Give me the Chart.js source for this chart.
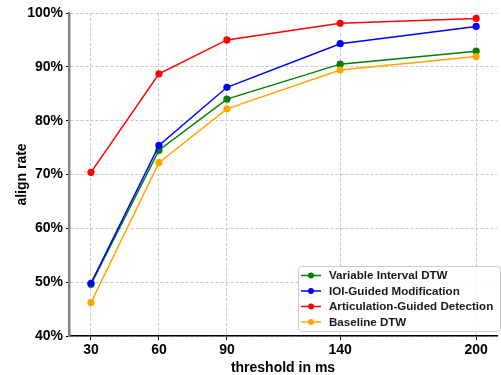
<!DOCTYPE html>
<html>
<head>
<meta charset="utf-8">
<script src="https://cdn.jsdelivr.net/npm/chart.js@4/dist/chart.umd.min.js"></script>
<style>
  html, body { margin: 0; padding: 0; background: #fff; }
  #wrap { width: 501px; height: 375px; position: relative; }
</style>
</head>
<body>
<div id="wrap"><canvas id="chart" width="501" height="375"></canvas></div>
<script>
// --- DATOS ---
const thresholds = [30, 60, 90, 140, 200];
const yTicks = [40, 50, 60, 70, 80, 90, 100];

const variableInterval = [49.6, 74.5, 84.0, 90.5, 92.9];
const ioiGuided = [49.8, 75.4, 86.2, 94.3, 97.5];
const articulationGuided = [70.4, 88.7, 95.0, 98.1, 99.0];
const baselineDtw = [46.2, 72.2, 82.2, 89.4, 91.9];

const FONT = "'Liberation Sans', Arial, sans-serif";

const toPoints = (vals) => vals.map((v, i) => ({ x: thresholds[i], y: v }));

const makeSet = (label, vals, color, order) => ({
    label: label,
    data: toPoints(vals),
    borderColor: color,
    backgroundColor: color,
    pointBackgroundColor: color,
    pointBorderColor: color,
    borderWidth: 1.5,
    pointRadius: 3.6,
    pointBorderWidth: 0,
    tension: 0,
    order: order
});

// --- LEYENDA DENTRO DEL ÁREA ---
const boxLegend = {
    id: 'boxLegend',
    afterDraw(chart) {
        const ctx = chart.ctx;
        const x = 298, y = 266, w = 202, h = 65;
        ctx.save();
        ctx.fillStyle = 'rgba(255,255,255,0.85)';
        ctx.strokeStyle = '#cccccc';
        ctx.lineWidth = 1;
        ctx.beginPath();
        ctx.roundRect(x + 0.5, y + 0.5, w, h, 3);
        ctx.fill();
        ctx.stroke();
        ctx.font = 'bold 11.6px ' + FONT;
        ctx.textBaseline = 'middle';
        chart.data.datasets.forEach((ds, i) => {
            const cy = y + 9.5 + i * 15.5;
            ctx.strokeStyle = ds.borderColor;
            ctx.lineWidth = 1.5;
            ctx.beginPath();
            ctx.moveTo(x + 3, cy);
            ctx.lineTo(x + 23, cy);
            ctx.stroke();
            ctx.fillStyle = ds.borderColor;
            ctx.beginPath();
            ctx.arc(x + 13, cy, 3, 0, Math.PI * 2);
            ctx.fill();
            ctx.fillStyle = '#1a1a1a';
            ctx.fillText(ds.label, x + 31, cy + 0.5);
        });
        ctx.restore();
    }
};

const ctx = document.getElementById('chart').getContext('2d');

new Chart(ctx, {
    type: 'line',
    data: {
        datasets: [
            makeSet('Variable Interval DTW', variableInterval, '#008000', 3),
            makeSet('IOI-Guided Modification', ioiGuided, '#0000ff', 2),
            makeSet('Articulation-Guided Detection', articulationGuided, '#ff0000', 1),
            makeSet('Baseline DTW', baselineDtw, '#ffa500', 0)
        ]
    },
    options: {
        responsive: false,
        animation: false,
        layout: { padding: { top: 13, right: 0, left: 0, bottom: 0 } },
        plugins: {
            legend: { display: false },
            tooltip: { enabled: false }
        },
        scales: {
            x: {
                type: 'linear',
                min: 20.3,
                max: 209.2,
                afterBuildTicks: (scale) => { scale.ticks = thresholds.map(v => ({ value: v })); },
                afterFit: (scale) => { scale.height = 39; },
                ticks: {
                    color: '#000',
                    font: { family: FONT, size: 14, weight: 'bold' },
                    padding: 2,
                    maxRotation: 0,
                    autoSkip: false
                },
                grid: { color: '#c8c8c8', lineWidth: 1, tickLength: 4, tickColor: '#000' },
                border: { color: '#000', width: 1.5, dash: [3, 2] },
                title: {
                    display: true,
                    text: 'threshold in ms',
                    color: '#000',
                    font: { family: FONT, size: 14, weight: 'bold', lineHeight: 1.05 },
                    padding: { top: 0, bottom: 0 }
                }
            },
            y: {
                min: 40,
                max: 100,
                afterBuildTicks: (scale) => { scale.ticks = yTicks.map(v => ({ value: v })); },
                afterFit: (scale) => { scale.width = 69; },
                ticks: {
                    color: '#000',
                    font: { family: FONT, size: 14, weight: 'bold' },
                    padding: 3,
                    callback: (v) => v + '%'
                },
                grid: { color: '#c8c8c8', lineWidth: 1, tickLength: 3, tickColor: '#000' },
                border: { color: '#808080', width: 2.5, dash: [3, 2] },
                title: {
                    display: true,
                    text: 'align rate',
                    color: '#000',
                    font: { family: FONT, size: 14, weight: 'bold' },
                    padding: { top: 14, bottom: 0 }
                }
            }
        }
    },
    plugins: [boxLegend]
});
</script>
</body>
</html>
